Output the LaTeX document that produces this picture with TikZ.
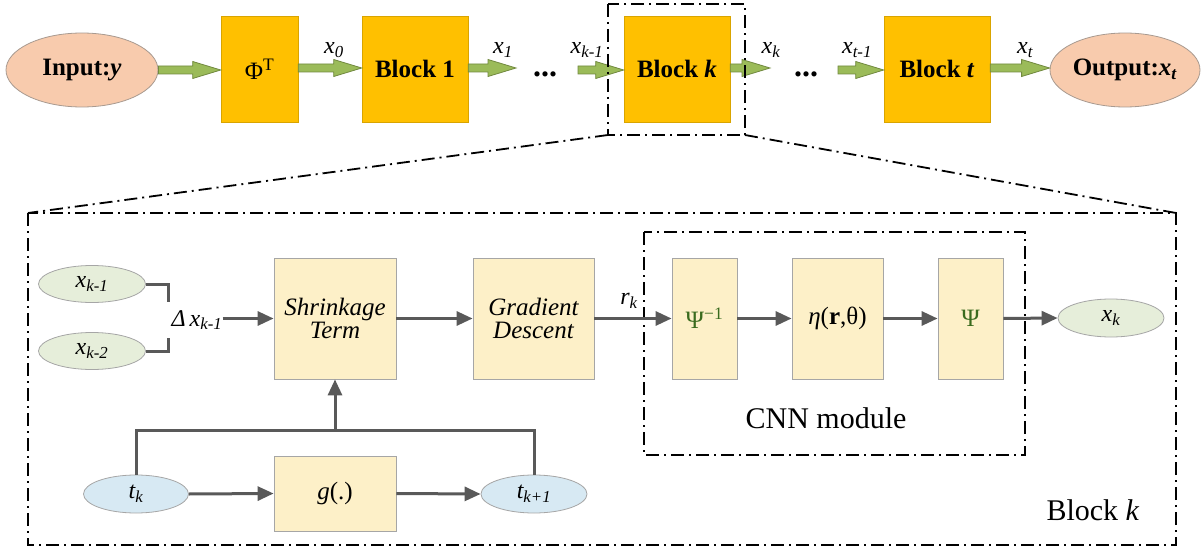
\documentclass[tikz,border=0pt]{standalone}
\usepackage{fontspec}
\IfFontExistsTF{LiberationSerif-Regular.ttf}
  {\setmainfont{LiberationSerif}[Extension=.ttf, UprightFont=*-Regular,
     BoldFont=*-Bold, ItalicFont=*-Italic, BoldItalicFont=*-BoldItalic]}
  {\setmainfont{Liberation Serif}}
\usetikzlibrary{arrows.meta,shapes.geometric,calc}

\definecolor{gold}{HTML}{FFC000}
\definecolor{golddark}{HTML}{D9A400}
\definecolor{salmon}{HTML}{F8CBAD}
\definecolor{salmonedge}{HTML}{A89A90}
\definecolor{agreen}{HTML}{9BBB59}
\definecolor{agreendark}{HTML}{71893F}
\definecolor{beige}{HTML}{FDF0C8}
\definecolor{boxedge}{HTML}{A6A6A6}
\definecolor{lgreen}{HTML}{E6EEDA}
\definecolor{lblue}{HTML}{D7E9F3}
\definecolor{flow}{HTML}{595959}
\definecolor{psigreen}{HTML}{3A6B1E}

\newcommand\fs[1]{\fontsize{#1}{#1}\selectfont}
\newcommand\sbs[2]{#1\textsubscript{#2}}

% thick green block arrow from the first point to the second (same height)
\newcommand\fatarrow[2]{%
  \path let \p1=(#1), \p2=(#2) in
    [fill=agreen, draw=agreendark, line width=0.8pt]
    (\x1,\y1+4pt) -- (\x2-28pt,\y1+4pt) -- (\x2-28pt,\y1+8.5pt) -- (\x2,\y1)
    -- (\x2-28pt,\y1-8.5pt) -- (\x2-28pt,\y1-4pt) -- (\x1,\y1-4pt) -- cycle;}

\tikzset{
  topblock/.style={draw=golddark, fill=gold, line width=0.6pt, minimum height=106pt,
    inner sep=0pt, font=\fs{25}\bfseries},
  topend/.style={ellipse, draw=salmonedge, fill=salmon, line width=0.8pt,
    minimum height=74pt, inner sep=0pt, font=\fs{25}\bfseries},
  elabel/.style={font=\fs{24}\itshape, inner sep=0pt},
  stage/.style={draw=boxedge, fill=beige, line width=0.8pt, inner sep=0pt,
    minimum height=121pt, align=center, font=\fs{25}},
  gnode/.style={ellipse, draw=boxedge, fill=lgreen, line width=0.8pt, inner sep=0pt,
    minimum width=107pt, minimum height=37pt, font=\fs{24}\itshape},
  bnode/.style={ellipse, draw=boxedge, fill=lblue, line width=0.8pt, inner sep=0pt,
    minimum width=105pt, minimum height=38pt, font=\fs{24}\itshape},
  flowline/.style={draw=flow, line width=3pt},
  flowarrow/.style={flowline, -{Triangle[length=16pt,width=14pt]}},
  dashdot/.style={draw=black, line width=1.8pt,
    dash pattern=on 13pt off 5pt on 2pt off 5pt},
}

\begin{document}
\begin{tikzpicture}[x=1pt, y=-1pt]
\useasboundingbox (0,0) rectangle (1203,551);

% ---------- unfolded network ----------
\node[topend, minimum width=152pt] (in) at (82,70) {Input:\textit{y}};
\node[topblock, minimum width=77pt] (phi) at (259.5,69) {\mdseries Φ\textsuperscript{T}};
\node[topblock, minimum width=106pt] (b1) at (415,69) {Block 1};
\node[topblock, minimum width=106pt] (bk) at (677,69) {Block \textit{k}};
\node[topblock, minimum width=106pt] (bt) at (937,69) {Block \textit{t}};
\node[topend, minimum width=150pt] (out) at (1125,70) {Output:\textit{x}\textsubscript{\textit{t}}};

\node[font=\fs{32}\bfseries] (dots1) at (545,74) {...};
\node[font=\fs{32}\bfseries] (dots2) at (806,74) {...};

\coordinate (c1) at (516,70);
\coordinate (c2) at (578,70);
\coordinate (c3) at (770,70);
\coordinate (c4) at (838,70);

\fatarrow{in.east}{$(phi.west)+(0,-1)$}
\fatarrow{$(phi.east)+(0,-1)$}{$(b1.west)+(0,-1)$}
\fatarrow{$(b1.east)+(0,-1)$}{c1}
\fatarrow{c2}{$(bk.west)+(0,-1)$}
\fatarrow{$(bk.east)+(0,-1)$}{c3}
\fatarrow{c4}{$(bt.west)+(0,-1)$}
\fatarrow{$(bt.east)+(0,-1)$}{out.west}

\node[elabel] (l0) at (334,50) {\sbs{x}{0}};
\node[elabel] (l1) at (503,50) {\sbs{x}{1}};
\node[elabel] (lk1) at (587,50) {\sbs{x}{k-1}};
\node[elabel] (lk) at (771,50) {\sbs{x}{k}};
\node[elabel] (lt1) at (857,50) {\sbs{x}{t-1}};
\node[elabel] (lt) at (1025,50) {\sbs{x}{t}};

% ---------- zoom frame around block k ----------
\coordinate (zA) at (608,4);
\coordinate (zB) at (745,135);
\coordinate (fA) at (28,213);
\coordinate (fB) at (1176,545);
\draw[dashdot] (zA) rectangle (zB);
\draw[dashdot] (zA |- zB) -- (fA);
\draw[dashdot] (zB) -- (fB |- fA);
\draw[dashdot] (fA) rectangle (fB);

% ---------- inside of block k ----------
\node[gnode] (xk1) at (92,284) {\sbs{x}{k-1}};
\node[gnode] (xk2) at (92,351) {\sbs{x}{k-2}};
\coordinate (br1) at (168,302);
\coordinate (br2) at (168,338);
\draw[flowline] (xk1.east) -| (br1);
\draw[flowline] (xk2.east) -| (br2);
\node[font=\fs{24}\itshape, inner sep=0pt] (dx) at (197,320) {Δ\,\sbs{x}{k-1}};

\node[stage, minimum width=122pt] (shr) at (335,318.5) {\itshape Shrinkage\\[-2pt]\itshape Term};
\node[stage, minimum width=121pt] (gd) at (533.5,318.5) {\itshape Gradient\\[-2pt]\itshape Descent};
\node[stage, minimum width=122pt, minimum height=75pt] (g) at (335,493.5) {\textit{g}(.)};
\node[bnode] (tk) at (136,494) {\sbs{t}{k}};
\node[bnode, minimum width=106pt] (tk1) at (534,494) {\sbs{t}{k+1}};

\draw[flowarrow] (dx.east |- shr.west) -- (shr.west);
\draw[flowarrow] (shr.east) -- (gd.west);
\draw[flowarrow] (tk.east) -- (g.west);
\draw[flowarrow] (g.east) -- (tk1.west);
\coordinate (jc) at (335,430);
\draw[flowline] (tk.north) |- (jc) -| (tk1.north);
\draw[flowarrow] (jc) -- (shr.south);

% CNN module
\draw[dashdot] (644,232) rectangle (1025,455);
\node[stage, minimum width=65pt] (psi1) at (704.5,318.5) {\color{psigreen}Ψ\textsuperscript{−1}};
\node[stage, minimum width=91pt] (eta) at (837.5,318.5) {\textit{η}(\textbf{r},θ)};
\node[stage, minimum width=65pt] (psi) at (970.5,318.5) {\color{psigreen}Ψ};
\node[gnode, minimum width=106pt, minimum height=38pt] (xk) at (1111,318) {\sbs{x}{k}};
\node[font=\fs{30}, inner sep=0pt] (cnn) at (826,418) {CNN module};
\node[font=\fs{30}, inner sep=0pt] (blk) at (1093,510) {Block \textit{k}};

\draw[flowarrow] (gd.east) -- (psi1.west);
\node[font=\fs{24}\itshape, inner sep=0pt] (rk) at (629,301) {\sbs{r}{k}};
\draw[flowarrow] (psi1.east) -- (eta.west);
\draw[flowarrow] (eta.east) -- (psi.west);
\draw[flowarrow] (psi.east) -- (xk.west);
\end{tikzpicture}
\end{document}
